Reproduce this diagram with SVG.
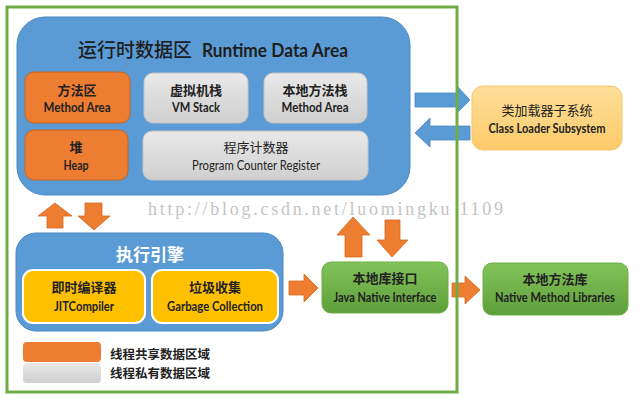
<svg xmlns="http://www.w3.org/2000/svg" width="640" height="402" viewBox="0 0 640 402">
<defs>
<linearGradient id="gGray" x1="0" y1="0" x2="0" y2="1"><stop offset="0" stop-color="#E9E9E9"/><stop offset="1" stop-color="#CFCFCF"/></linearGradient>
<linearGradient id="gGreen" x1="0" y1="0" x2="0" y2="1"><stop offset="0" stop-color="#82C35A"/><stop offset="1" stop-color="#5E9F3B"/></linearGradient>
<linearGradient id="gLoader" x1="0" y1="0" x2="0" y2="1"><stop offset="0" stop-color="#FFDF9A"/><stop offset="1" stop-color="#FBCB6A"/></linearGradient>
<style>
.cn{font-family:"Noto Sans CJK SC",sans-serif;fill:#222;text-anchor:middle;font-size:13px;font-weight:bold}
.en{font-family:Lato,"Noto Sans",sans-serif;fill:#222;text-anchor:middle;font-size:12.5px;font-weight:bold}
.blue{fill:#5B9BD5;stroke:#4C88C2;stroke-width:1}
.orange{fill:#ED7D31;stroke:#C9631E;stroke-width:1}
.gray{fill:url(#gGray);stroke:#C4C4C4;stroke-width:1}
.yellow{fill:#FFC000;stroke:#FFFFFF;stroke-width:2}
.green{fill:url(#gGreen);stroke:#6AAE45;stroke-width:1}
.oarrow{fill:#ED7D31;stroke:#D56A22;stroke-width:0.8}
.barrow{fill:#5B9BD5;stroke:#4C88C2;stroke-width:0.8}
</style>
</defs>
<rect width="640" height="402" fill="#FFFFFF"/>

<g id="runtime-data-area">
<rect class="blue" x="17" y="17" width="393" height="178" rx="28"/>
<text x="78" y="57" style="font-family:'Noto Sans CJK SC',sans-serif;font-size:19px;font-weight:500;fill:#1E1E1E">运行时数据区</text>
<text x="202" y="57" textLength="146" lengthAdjust="spacingAndGlyphs" style="font-family:Lato,'Noto Sans',sans-serif;font-size:19px;font-weight:bold;fill:#1E1E1E">Runtime Data Area</text>
</g>

<g id="method-area">
<rect class="orange" x="25" y="72" width="105" height="51" rx="9"/>
<text class="cn" x="77" y="94.5">方法区</text>
<text class="en" x="77" y="111.5" textLength="67" lengthAdjust="spacingAndGlyphs">Method Area</text>
</g>

<g id="heap">
<rect class="orange" x="25" y="130" width="103" height="50" rx="9"/>
<text class="cn" x="76" y="151.5">堆</text>
<text class="en" x="76" y="169.5" textLength="25" lengthAdjust="spacingAndGlyphs">Heap</text>
</g>

<g id="vm-stack">
<rect class="gray" x="144" y="73" width="104" height="50" rx="9"/>
<text class="cn" x="196" y="94.5">虚拟机栈</text>
<text class="en" x="196" y="112" textLength="48" lengthAdjust="spacingAndGlyphs">VM Stack</text>
</g>

<g id="native-method-stack">
<rect class="gray" x="264" y="73" width="103" height="50" rx="9"/>
<text class="cn" x="315" y="94.5">本地方法栈</text>
<text class="en" x="315" y="112" textLength="67" lengthAdjust="spacingAndGlyphs">Method Area</text>
</g>

<g id="program-counter">
<rect class="gray" x="143" y="131" width="225" height="49" rx="9"/>
<text class="cn" x="256" y="151.5" style="font-weight:normal">程序计数器</text>
<text class="en" x="256" y="169.5" textLength="128" lengthAdjust="spacingAndGlyphs" style="font-weight:normal">Program Counter Register</text>
</g>

<g id="class-loader">
<rect x="472" y="86" width="150" height="64" rx="11" fill="url(#gLoader)" stroke="#F6C76E" stroke-width="1"/>
<text class="cn" x="547" y="114.5" style="font-weight:normal">类加载器子系统</text>
<text class="en" x="547" y="132.5" textLength="117" lengthAdjust="spacingAndGlyphs">Class Loader Subsystem</text>
</g>

<g id="execution-engine">
<rect class="blue" x="16" y="233" width="267" height="98" rx="20"/>
<text x="150" y="261" style="font-family:'Noto Sans CJK SC',sans-serif;font-size:17px;font-weight:bold;fill:#FFFFFF;text-anchor:middle">执行引擎</text>
</g>

<g id="jit-compiler">
<rect class="yellow" x="23" y="270" width="122" height="53" rx="10"/>
<text class="cn" x="84" y="291.5">即时编译器</text>
<text class="en" x="84" y="310.5" textLength="60" lengthAdjust="spacingAndGlyphs">JITCompiler</text>
</g>

<g id="garbage-collection">
<rect class="yellow" x="152" y="270" width="126" height="53" rx="10"/>
<text class="cn" x="215" y="291.5">垃圾收集</text>
<text class="en" x="215" y="310.5" textLength="96" lengthAdjust="spacingAndGlyphs">Garbage Collection</text>
</g>

<g id="java-native-interface">
<rect class="green" x="322" y="262" width="126" height="51" rx="9"/>
<text class="cn" x="385" y="282.5">本地库接口</text>
<text class="en" x="385" y="301.5" textLength="103" lengthAdjust="spacingAndGlyphs">Java Native Interface</text>
</g>

<g id="native-method-libraries">
<rect class="green" x="483" y="263" width="145" height="52" rx="9"/>
<text class="cn" x="555" y="283.5">本地方法库</text>
<text class="en" x="555" y="301.5" textLength="120" lengthAdjust="spacingAndGlyphs">Native Method Libraries</text>
</g>

<g id="legend">
<rect x="23" y="342" width="78" height="20" rx="4" fill="#ED7D31"/>
<rect x="23" y="363" width="78" height="20" rx="4" fill="url(#gGray)"/>
<text x="110" y="358.5" style="font-family:'Noto Sans CJK SC',sans-serif;font-size:12.5px;font-weight:bold;fill:#222">线程共享数据区域</text>
<text x="110" y="377.5" style="font-family:'Noto Sans CJK SC',sans-serif;font-size:12.5px;font-weight:bold;fill:#222">线程私有数据区域</text>
</g>

<g id="connectors">
<polygon class="barrow" points="415,93 458,93 458,87 470,100 458,112 458,107 415,107"/>
<polygon class="barrow" points="470,126 430,126 430,118 415,133 430,147 430,140 470,140"/>
<polygon class="oarrow" points="55,203 72,216 63,216 63,228 47,228 47,216 38,216"/>
<polygon class="oarrow" points="85,203 102,203 102,216 110,216 94,230 78,216 85,216"/>
<polygon class="oarrow" points="353,217 370,235 362,235 362,257 345,257 345,235 337,235"/>
<polygon class="oarrow" points="385,220 400,220 400,240 408,240 392,257 377,240 385,240"/>
<polygon class="oarrow" points="289,281 304,281 304,274 318,288 304,302 304,295 289,295"/>
<polygon class="oarrow" points="452,283 465,283 465,276 480,290 465,304 465,297 452,297"/>
</g>

<text x="148" y="215" textLength="355" lengthAdjust="spacing" style="font-family:'Liberation Serif',serif;font-size:18px;fill:#C4C4C4">http://blog.csdn.net/luomingku 1109</text>

<g id="frame">
<rect x="7" y="7" width="450" height="385" fill="none" stroke="#70AD47" stroke-width="3"/>
</g>
</svg>
